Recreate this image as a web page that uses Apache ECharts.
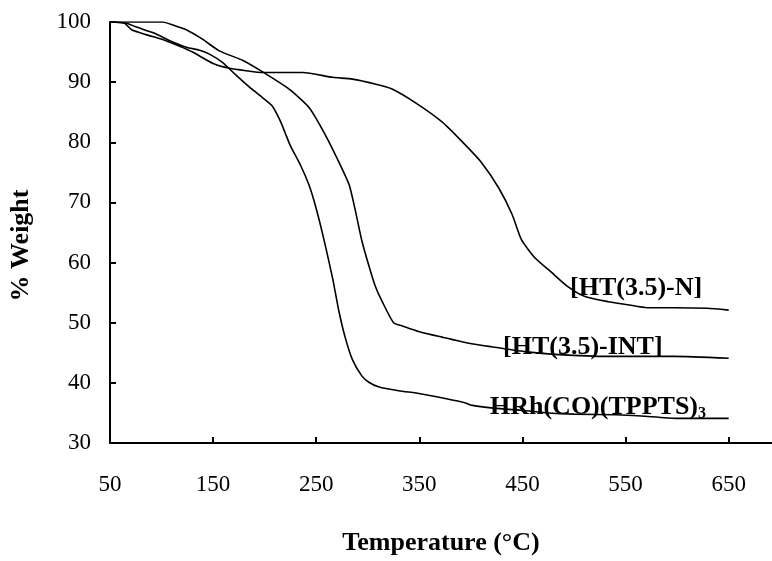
<!DOCTYPE html>
<html>
<head>
<meta charset="utf-8">
<script src="https://cdn.jsdelivr.net/npm/echarts@6/dist/echarts.min.js"></script>
<style>
  html, body { margin: 0; padding: 0; background: #fff; }
  #chart { width: 772px; height: 561px; }
</style>
</head>
<body>
<div id="chart"></div>
<script>
// TGA curves
const hrhTemp = [50, 66, 75, 92, 108, 124, 137, 146, 159, 172, 185, 198, 207, 215, 220, 225, 235, 243, 248, 253, 259, 266, 272, 278, 285, 294, 301, 311, 330, 351, 375, 394, 400, 422, 451, 475, 500, 541, 565, 599, 650];
const hrhWeight = [100, 99.8, 99.2, 98.2, 96.9, 95.8, 95.3, 94.7, 93.3, 91.2, 89.2, 87.4, 86.1, 83.6, 81.5, 79.4, 76.1, 72.9, 70.2, 67, 62.7, 57.3, 51.9, 47.6, 43.9, 41.2, 40.1, 39.3, 38.7, 38.2, 37.4, 36.7, 36.3, 35.8, 35.4, 35.0, 34.8, 34.7, 34.5, 34.1, 34.1];

const intTemp = [50, 101, 111, 124, 140, 156, 179, 198, 224, 243, 258, 272, 282, 288, 294, 301, 307, 314, 325, 333, 350, 372, 398, 420, 452, 485, 533, 597, 650];
const intWeight = [100, 100, 99.5, 98.7, 97.1, 95.2, 93.6, 91.7, 88.8, 85.8, 81.5, 76.7, 72.9, 68.6, 63.8, 59.5, 56.2, 53.5, 50, 49.5, 48.5, 47.6, 46.6, 46, 45.2, 44.7, 44.4, 44.4, 44.1];

const nTemp = [50, 64, 71, 85, 101, 117, 130, 150, 166, 182, 198, 237, 266, 285, 307, 323, 346, 372, 391, 410, 427, 440, 449, 462, 478, 494, 510, 533, 552, 571, 597, 629, 650];
const nWeight = [100, 99.8, 98.7, 97.9, 97.1, 96.0, 95.0, 93.1, 92.3, 91.9, 91.6, 91.6, 90.8, 90.5, 89.7, 88.9, 86.6, 83.4, 80.2, 76.7, 72.4, 68, 63.8, 60.8, 58.4, 56, 54.4, 53.5, 53, 52.5, 52.5, 52.4, 52.1];

const serif = '"Liberation Serif", "Times New Roman", serif';

function zip(xs, ys) {
    return xs.map((x, i) => [x, ys[i]]);
}

function curve(name, xs, ys) {
    return {
        name: name,
        type: 'line',
        data: zip(xs, ys),
        showSymbol: false,
        smooth: 0.2,
        lineStyle: { color: '#000', width: 1.6 },
        animation: false
    };
}

const chart = echarts.init(document.getElementById('chart'));
chart.setOption({
    backgroundColor: '#fff',
    grid: { left: 107, right: 0, top: 22, bottom: 105 },
    xAxis: {
        type: 'value',
        min: 50,
        max: 692,
        interval: 100,
        name: 'Temperature (°C)',
        nameLocation: 'middle',
        nameGap: 87,
        nameTextStyle: { fontFamily: serif, fontWeight: 'bold', fontSize: 26, color: '#000' },
        axisLine: { lineStyle: { color: '#000', width: 2 } },
        axisTick: { inside: true, length: 6, lineStyle: { color: '#000', width: 2 } },
        axisLabel: { showMaxLabel: false, margin: 30, fontFamily: serif, fontSize: 23, color: '#000' },
        splitLine: { show: false }
    },
    yAxis: {
        type: 'value',
        min: 30,
        max: 100,
        interval: 10,
        name: '% Weight',
        nameLocation: 'middle',
        nameGap: 76,
        nameTextStyle: { fontFamily: serif, fontWeight: 'bold', fontSize: 26, color: '#000', padding: [0, 26, 0, 0] },
        axisLine: { show: true, lineStyle: { color: '#000', width: 2 } },
        axisTick: { show: true, inside: true, length: 6, lineStyle: { color: '#000', width: 2 } },
        axisLabel: { margin: 19, fontFamily: serif, fontSize: 23, color: '#000' },
        splitLine: { show: false }
    },
    series: [
        curve('HRh(CO)(TPPTS)3', hrhTemp, hrhWeight),
        curve('[HT(3.5)-INT]', intTemp, intWeight),
        curve('[HT(3.5)-N]', nTemp, nWeight)
    ],
    graphic: [
        {
            type: 'text',
            x: 570, y: 288,
            style: { text: '[HT(3.5)-N]', font: 'bold 26px ' + serif, fill: '#000', verticalAlign: 'middle' }
        },
        {
            type: 'text',
            x: 503, y: 347,
            style: { text: '[HT(3.5)-INT]', font: 'bold 26px ' + serif, fill: '#000', verticalAlign: 'middle' }
        },
        {
            type: 'text',
            x: 490, y: 407,
            style: {
                text: '{a|HRh(CO)(TPPTS)}{s|3}',
                verticalAlign: 'middle',
                rich: {
                    a: { fontFamily: serif, fontWeight: 'bold', fontSize: 26, color: '#000', lineHeight: 30 },
                    s: { fontFamily: serif, fontWeight: 'bold', fontSize: 16, color: '#000', verticalAlign: 'bottom', lineHeight: 30 }
                }
            }
        }
    ]
});
</script>
</body>
</html>
